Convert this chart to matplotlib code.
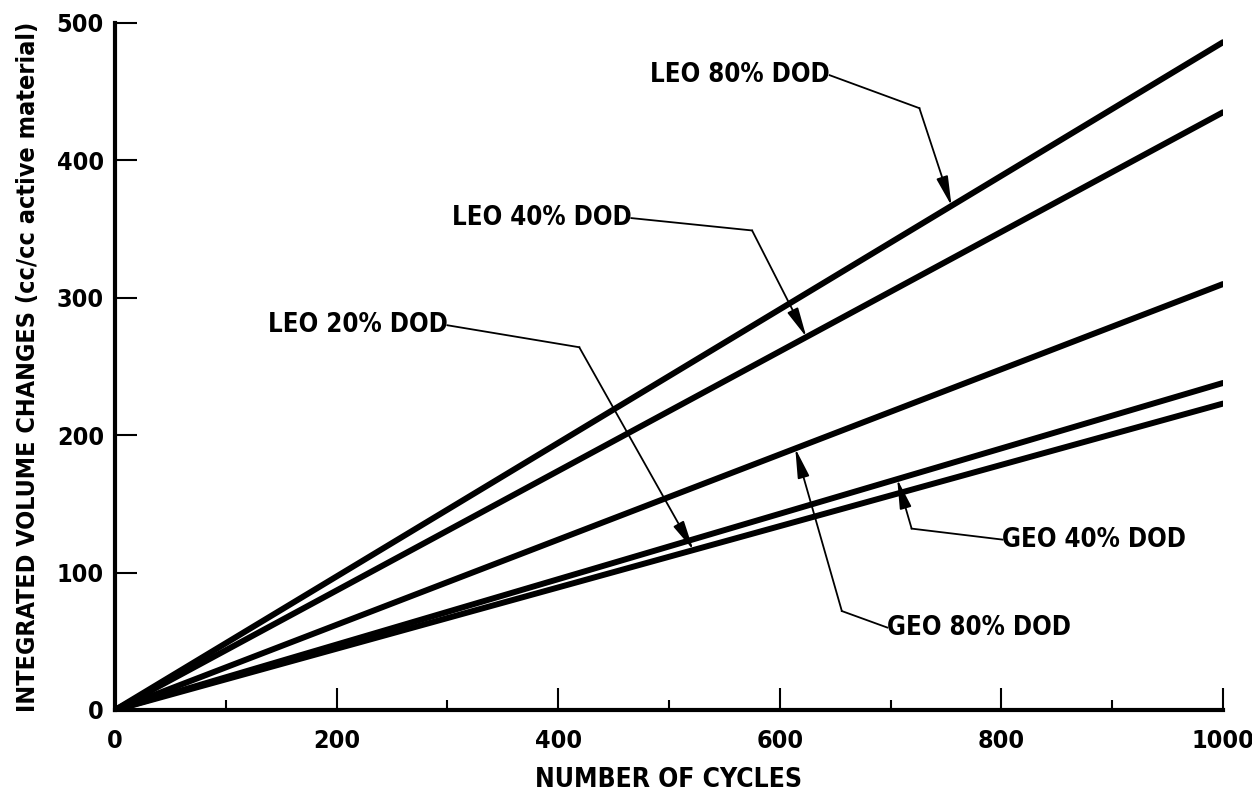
import matplotlib
matplotlib.use('Agg')
import matplotlib.pyplot as plt
from matplotlib.ticker import MultipleLocator

plt.rcParams['font.family'] = ['DejaVu Sans']
plt.rcParams['font.stretch'] = 'condensed'
plt.rcParams['font.weight'] = 'bold'
plt.rcParams['axes.labelweight'] = 'bold'

# integrated volume change grows linearly with cycle count
cycles = [0, 1000]
leo_80 = [0, 486]
leo_40 = [0, 435]
geo_80 = [0, 310]
geo_40 = [0, 238]
leo_20 = [0, 223]

series = [leo_80, leo_40, geo_80, geo_40, leo_20]

# callouts: label, text anchor, bend point, arrow tip (x on curve)
labels = ['LEO 80% DOD', 'LEO 40% DOD', 'LEO 20% DOD', 'GEO 40% DOD', 'GEO 80% DOD']
label_series = [leo_80, leo_40, leo_20, geo_40, geo_80]
text_pos = [(645, 462), (466, 358), (300, 280), (801, 124), (697, 60)]
bend_pos = [(726, 438), (575, 349), (419, 264), (719, 132), (656, 72)]
tip_x = [755, 624, 522, 706, 614]
text_side = ['right', 'right', 'right', 'left', 'left']

fig = plt.figure(figsize=(12.52, 7.93), dpi=100)
ax = fig.add_axes([0.0919, 0.1047, 0.8849, 0.8663])

for ys in series:
    ax.plot(cycles, ys, color='black', lw=4.3, solid_capstyle='round')

for lab, ys, tp, bp, tx, side in zip(labels, label_series, text_pos, bend_pos, tip_x, text_side):
    tip_y = ys[0] + (ys[1] - ys[0]) * (tx - cycles[0]) / (cycles[1] - cycles[0])
    ax.text(tp[0], tp[1], lab, ha=side, va='center', fontsize=18.5)
    ax.plot([tp[0], bp[0]], [tp[1], bp[1]], color='black', lw=1.3)
    ax.annotate('', xy=(tx, tip_y), xytext=bp,
                arrowprops=dict(arrowstyle='-|>,head_length=0.9,head_width=0.18',
                                color='black', lw=1.3, mutation_scale=20,
                                shrinkA=0, shrinkB=0))

ax.set_xlim(0, 1000)
ax.set_ylim(0, 500)
ax.spines['top'].set_visible(False)
ax.spines['right'].set_visible(False)
ax.spines['left'].set_linewidth(3)
ax.spines['bottom'].set_linewidth(3)

ax.xaxis.set_major_locator(MultipleLocator(200))
ax.xaxis.set_minor_locator(MultipleLocator(100))
ax.yaxis.set_major_locator(MultipleLocator(100))
ax.tick_params(axis='both', which='major', direction='in', length=16, width=1.5,
               labelsize=18)
ax.tick_params(axis='x', which='major', pad=14)
ax.tick_params(axis='y', which='major', pad=8)
ax.tick_params(axis='x', which='minor', direction='in', length=7, width=1.5)

ax.set_xlabel('NUMBER OF CYCLES', fontsize=19, labelpad=10)
ax.set_ylabel('INTEGRATED VOLUME CHANGES (cc/cc active material)', fontsize=18,
              labelpad=12)

fig.savefig('out.png', dpi=100)
